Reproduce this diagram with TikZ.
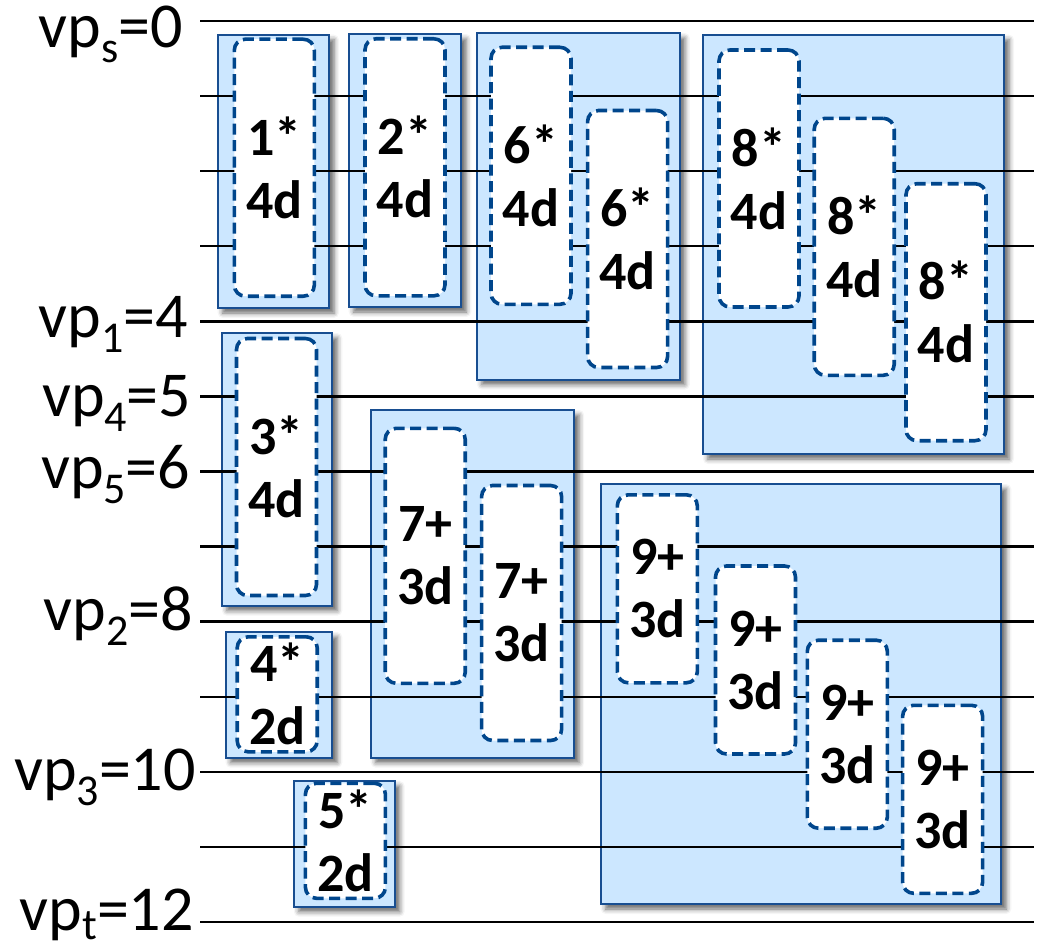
\documentclass[tikz,border=0pt]{standalone}
\usepackage{fontspec}
\setmainfont{Carlito}
\usetikzlibrary{shadows.blur}
\definecolor{grpfill}{RGB}{204,231,255}
\definecolor{grpdraw}{RGB}{24,78,145}
\definecolor{dashdraw}{RGB}{0,70,140}
\newcommand\vpsub[2][-15pt]{\raisebox{#1}{\fontsize{44}{44}\selectfont #2}}
\begin{document}
\begin{tikzpicture}[x=1pt,y=-1pt,
  grp/.style={draw=grpdraw, line width=2.2pt, fill=grpfill, inner sep=0pt,
    blur shadow={shadow xshift=5pt, shadow yshift=-5pt, shadow blur radius=5pt, shadow opacity=60}},
  task/.style={draw=dashdraw, line width=3.6pt, dash pattern=on 11pt off 5.5pt, rounded corners=11pt,
    fill=white, inner sep=0pt, minimum width=80pt, align=center,
    font=\fontsize{54}{63}\selectfont\bfseries},
  tall/.style={task, minimum height=257pt},
  mid/.style={task, minimum height=255pt},
  short/.style={task, minimum height=188pt},
  tiny/.style={task, minimum height=115pt},
  wire/.style={line width=2.4pt, black},
  lab/.style={inner sep=0pt, anchor=base east, font=\fontsize{64}{76}\selectfont}]
\useasboundingbox (0,0) rectangle (1039,950);

% group boxes
\node[grp, minimum width=111.3pt, minimum height=273.3pt] (g1) at (273.35,171.35) {};
\node[grp, minimum width=112.6pt, minimum height=273pt] (g2) at (405,170.5) {};
\node[grp, minimum width=202.9pt, minimum height=346.7pt] (g6) at (578.35,206.35) {};
\node[grp, minimum width=301.1pt, minimum height=419.3pt] (g8) at (853.45,244.35) {};
\node[grp, minimum width=110.5pt, minimum height=272.7pt] (g3) at (277.05,469.35) {};
\node[grp, minimum width=203.5pt, minimum height=347.7pt] (g7) at (472.45,583.85) {};
\node[grp, minimum width=106.7pt, minimum height=125.7pt] (g4) at (278.95,694.85) {};
\node[grp, minimum width=100.9pt, minimum height=125.7pt] (g5) at (344.25,843.85) {};
\node[grp, minimum width=400.6pt, minimum height=420pt] (g9) at (801,694) {};

% horizontal lines
\foreach \k in {0,...,12} {
  \coordinate (s\k) at (200,{21+75.08*\k});
  \coordinate (e\k) at (1034,{21+75.08*\k});
  \draw[wire] (s\k) -- (e\k);
}

% labels
\node[lab] (l0) at (183,48) {vp\vpsub{s}=0};
\node[lab] (l1) at (188,337) {vp\vpsub{1}=4};
\node[lab] (l4) at (191.5,416.7) {vp\vpsub{4}=5};
\node[lab] (l5) at (190.5,488) {vp\vpsub{5}=6};
\node[lab] (l2) at (193,630) {vp\vpsub{2}=8};
\node[lab] (l3) at (196,790) {vp\vpsub{3}=10};
\node[lab] (lt) at (194,930) {vp\vpsub[-9pt]{t}=12};

% task boxes
\node[tall] (t1) at (274.3,167.7) {1*\\4d};
\node[tall] (t2) at (405,167.3) {2*\\4d};
\node[tall] (t6a) at (531,175.8) {6*\\4d};
\node[tall] (t6b) at (627.6,239) {6*\\4d};
\node[tall] (t8a) at (759,178.5) {8*\\4d};
\node[tall] (t8b) at (854.2,246.8) {8*\\4d};
\node[tall] (t8c) at (946,312.2) {8*\\4d};
\node[tall] (t3) at (276.5,467) {3*\\4d};
\node[mid] (t7a) at (425.2,555.8) {7+\\3d};
\node[mid] (t7b) at (521.6,613) {7+\\3d};
\node[short] (t9a) at (657.3,588.8) {9+\\3d};
\node[short] (t9b) at (755.5,660) {9+\\3d};
\node[short] (t9c) at (847.3,734.2) {9+\\3d};
\node[short] (t9d) at (942.6,799.3) {9+\\3d};
\node[tiny] (t4) at (277.2,694.3) {4*\\2d};
\node[tiny] (t5) at (345.4,840.8) {5*\\2d};
\end{tikzpicture}
\end{document}
